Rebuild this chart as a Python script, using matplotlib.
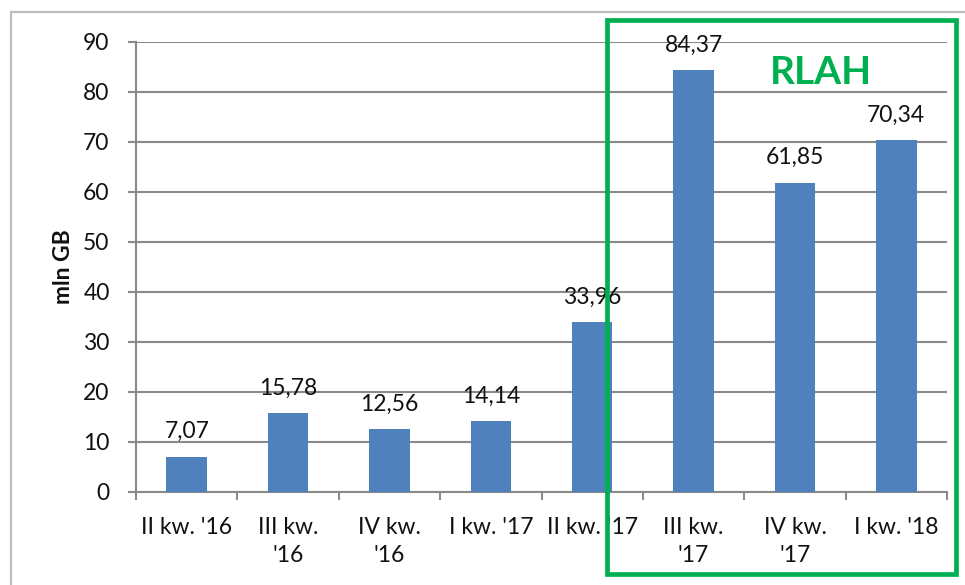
import matplotlib
matplotlib.use('Agg')
import matplotlib.pyplot as plt
from matplotlib.patches import Rectangle
import numpy as np

# data
quarters = ["II kw. '16", "III kw.\n'16", "IV kw.\n'16", "I kw. '17", "II kw. '17",
            "III kw.\n'17", "IV kw.\n'17", "I kw. '18"]
values = [7.07, 15.78, 12.56, 14.14, 33.96, 84.37, 61.85, 70.34]
yticks = [0, 10, 20, 30, 40, 50, 60, 70, 80, 90]

bar_color = '#4F81BD'
grid_color = '#8A8A8A'
green = '#00B050'
txt = '#111111'

plt.rcParams['font.family'] = ['Lato', 'DejaVu Sans']

fig = plt.figure(figsize=(9.65, 5.85), dpi=100)
ax = fig.add_axes([136/965, 1-492/585, (947-136)/965, (492-42)/585])

x = np.arange(len(values))
ax.bar(x, values, width=0.4, color=bar_color, zorder=3)

for xi, v in zip(x, values):
    lab = f'{v:.2f}'.replace('.', ',')
    ax.annotate(lab, (xi, v), xytext=(0, 13.5), textcoords='offset points',
                ha='center', va='baseline', fontsize=16.5, color=txt, zorder=4)

ax.set_xlim(-0.5, len(values)-0.5)
ax.set_ylim(0, 90)
ax.set_yticks(yticks)
ax.yaxis.grid(True, color=grid_color, lw=1.5, zorder=0)
ax.tick_params(axis='y', length=6, width=1.5, color=grid_color, pad=13,
               labelsize=16.5, labelcolor=txt)

ax.set_xticks(x)
ax.set_xticklabels(quarters, linespacing=1.4)
ax.set_xticks(np.arange(-0.5, len(values)), minor=True)
ax.tick_params(axis='x', which='major', length=0, pad=18, labelsize=16.5,
               labelcolor=txt)
ax.tick_params(axis='x', which='minor', length=6, width=1.5, color=grid_color)

for s in ['top', 'right']:
    ax.spines[s].set_visible(False)
for s in ['left', 'bottom']:
    ax.spines[s].set_color(grid_color)
    ax.spines[s].set_linewidth(1.5)

ax.set_ylabel('mln GB', fontsize=16.5, fontweight='bold', color=txt)
ax.yaxis.set_label_coords(-0.077, 0.5)

# outer chart frame (cut by the picture edge)
fig.add_artist(Rectangle((11/965, -0.1), 1.2, 1-12/585+0.1, transform=fig.transFigure,
                         fill=False, edgecolor='#BDBDBD', lw=1.6, zorder=0))

# green RLAH box
fig.add_artist(Rectangle((607/965, 1-574/585), (956-607)/965, (574-20)/585,
                         transform=fig.transFigure, fill=False, edgecolor=green,
                         lw=3.4, zorder=5))
fig.text(821/965, 1-72/585, 'RLAH', color=green, fontsize=28, fontweight='bold',
         ha='center', va='center')

fig.savefig('out.png', dpi=100)
